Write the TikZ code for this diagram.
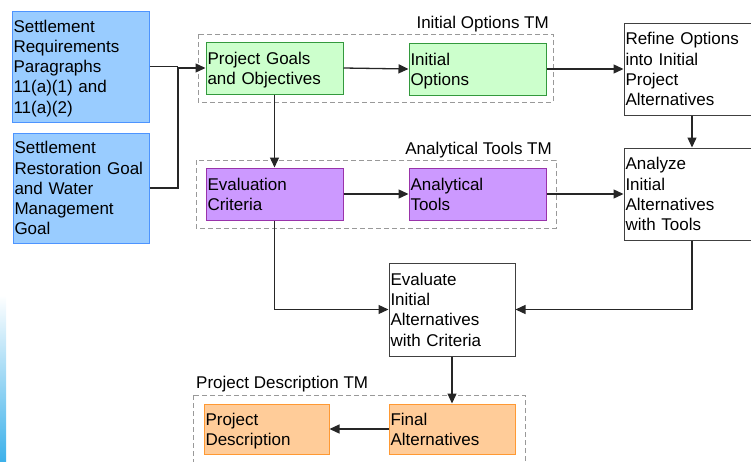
\documentclass[tikz,border=0pt]{standalone}
\usepackage{fontspec}
\setmainfont{Liberation Sans}
\usetikzlibrary{arrows.meta}
\definecolor{bluefill}{HTML}{99CCFF}
\definecolor{blueline}{HTML}{4D94FF}
\definecolor{greenfill}{HTML}{CCFFCC}
\definecolor{greenline}{HTML}{33993D}
\definecolor{purplefill}{HTML}{CC99FF}
\definecolor{purpleline}{HTML}{9933AA}
\definecolor{orangefill}{HTML}{FFCC99}
\definecolor{orangeline}{HTML}{FF9933}
\definecolor{dashgray}{HTML}{999999}
\definecolor{stripblue}{HTML}{3DB1EA}
\tikzset{
  box/.style={draw, line width=1pt, rectangle, inner xsep=1.5pt, inner ysep=0pt,
    align=left, anchor=center, font=\fontsize{17}{20.2}\selectfont,
    execute at begin node={\rule{0pt}{16.5pt}},
    execute at end node={\rule[-4pt]{0pt}{4pt}}},
  bluebox/.style={box, fill=bluefill, draw=blueline},
  greenbox/.style={box, fill=greenfill, draw=greenline},
  purplebox/.style={box, fill=purplefill, draw=purpleline},
  orangebox/.style={box, fill=orangefill, draw=orangeline},
  whitebox/.style={box, fill=white, draw=black!75},
  group/.style={draw=dashgray, dashed, dash pattern=on 5pt off 3pt, line width=1pt},
  grouplabel/.style={font=\fontsize{17}{20}\selectfont, inner sep=0pt},
  conn/.style={line width=1.3pt, draw=black!85},
  arr/.style={conn, -{Triangle[length=10pt,width=9pt]}}
}
\begin{document}
\begin{tikzpicture}[x=1pt,y=-1pt]
\useasboundingbox (0,0) rectangle (751,461);
% left gradient strip
\shade[top color=white, bottom color=stripblue] (0,295) rectangle (6,461);
% dashed groups
\draw[group] (198,34) rectangle (553,102);
\draw[group] (196,160) rectangle (556,228);
\draw[group] (193,395) rectangle (525,470);
\node[grouplabel, anchor=base east] (l1) at (549,28) {Initial Options TM};
\node[grouplabel, anchor=base east] (l2) at (552,154) {Analytical Tools TM};
\node[grouplabel, anchor=base west] (l3) at (196,388) {Project Description TM};
% boxes
\node[bluebox, text width=134pt, minimum height=111pt] (b1) at (80.5,66.5)
  {Settlement\\Requirements\\Paragraphs\\11(a)(1) and\\11(a)(2)};
\node[bluebox, text width=133pt, minimum height=110pt] (b2) at (81,188)
  {Settlement\\Restoration Goal\\and Water\\Management\\Goal};
\node[greenbox, text width=134pt, minimum height=52pt] (pg) at (274.5,68)
  {Project Goals\\and Objectives};
\node[greenbox, text width=134pt, minimum height=52pt] (io) at (477.5,69)
  {Initial\\Options};
\node[purplebox, text width=134pt, minimum height=52pt] (ec) at (274.5,194)
  {Evaluation\\Criteria};
\node[purplebox, text width=134pt, minimum height=52pt] (at) at (477.5,194)
  {Analytical\\Tools};
\node[whitebox, text width=133pt, minimum height=92pt] (rf) at (692,69)
  {Refine Options\\into Initial\\Project\\Alternatives};
\node[whitebox, text width=133pt, minimum height=92pt] (an) at (692,194)
  {Analyze\\Initial\\Alternatives\\with Tools};
\node[whitebox, text width=123pt, minimum height=93pt] (ev) at (452,309.5)
  {Evaluate\\Initial\\Alternatives\\with Criteria};
\node[orangebox, text width=123pt, minimum height=50pt] (fa) at (452,429)
  {Final\\Alternatives};
\node[orangebox, text width=122pt, minimum height=50pt] (pd) at (266.5,429)
  {Project\\Description};
% connectors
\coordinate (j) at (178,68);
\draw[conn] (b1.east) -- (b1.east -| j);
\draw[conn] (b2.east) -| (j) -- (b1.east -| j);
\draw[arr] (j) -- (pg.west);
\draw[arr] (pg.east) -- (io.west);
\draw[arr] (io.east) -- (rf.west);
\draw[arr] (pg.south) -- (ec.north);
\draw[arr] (ec.east) -- (at.west);
\draw[arr] (at.east) -- (an.west);
\draw[arr] (rf.south) -- (an.north);
\draw[arr] (ec.south) |- (ev.west);
\draw[arr] (an.south) |- (ev.east);
\draw[arr] (ev.south) -- (fa.north);
\draw[arr] (fa.west) -- (pd.east);
\end{tikzpicture}
\end{document}
